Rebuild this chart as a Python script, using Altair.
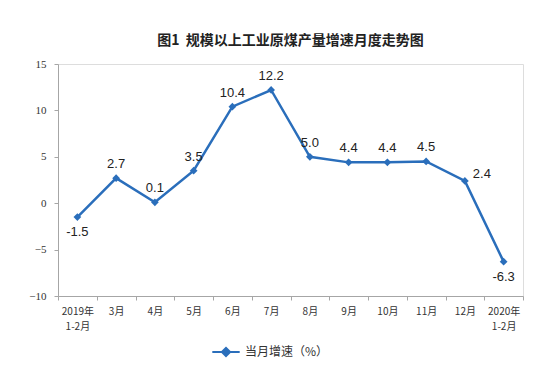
import altair as alt
import pandas as pd

months = ["2019年|1-2月", "3月", "4月", "5月", "6月", "7月", "8月", "9月",
          "10月", "11月", "12月", "2020年|1-2月"]
growth = [-1.5, 2.7, 0.1, 3.5, 10.4, 12.2, 5.0, 4.4, 4.4, 4.5, 2.4, -6.3]
series_name = "当月增速（%）"
label_pos = ["below", "above", "above", "above", "above", "above", "above",
             "above", "above", "above", "right", "below"]

df = pd.DataFrame({"month": months, "value": growth, "series": series_name,
                   "pos": label_pos})
df["label"] = df["value"].map(lambda v: f"{v:.1f}")

COLOR = "#2A6EBB"
CJK = "Noto Sans CJK SC"

x = alt.X("month:N", sort=months,
          scale=alt.Scale(paddingInner=0, paddingOuter=0),
          axis=alt.Axis(title=None, labelAngle=0, tickBand="extent",
                        labelExpr="datum.value ? split(datum.value, '|') : ''",
                        labelFont=CJK, labelFontSize=10, labelColor="#333",
                        labelPadding=6, domainColor="#A6A6A6", tickColor="#A6A6A6",
                        tickSize=4, labelLineHeight=15))
y = alt.Y("value:Q",
          scale=alt.Scale(domain=[-10, 15], nice=False),
          axis=alt.Axis(title=None, values=[-10, -5, 0, 5, 10, 15], grid=False,
                        labelFont="Liberation Serif", labelFontSize=11,
                        labelColor="#333", domainColor="#A6A6A6",
                        tickColor="#A6A6A6", tickSize=4, labelPadding=8))

base = alt.Chart(df)

line = base.mark_line(strokeWidth=2.5, point=alt.OverlayMarkDef(
    shape="diamond", size=60, filled=True, color=COLOR)).encode(
    x=x, y=y,
    color=alt.Color("series:N", scale=alt.Scale(range=[COLOR]),
                    legend=alt.Legend(title=None, orient="none",
                                      legendX=153, legendY=273,
                                      symbolType="M-1,0L1,0M-0.3,0L0,-0.3L0.3,0L0,0.3Z",
                                      symbolSize=750, symbolStrokeWidth=2,
                                      symbolFillColor=COLOR, symbolStrokeColor=COLOR,
                                      labelFont=CJK, labelFontSize=12,
                                      labelColor="#333"))
)

txt_style = dict(font="Liberation Sans", fontSize=13, color="#222")

above = base.transform_filter("datum.pos == 'above'").mark_text(
    dy=-14, **txt_style).encode(x=x, y=y, text="label:N")
below = base.transform_filter("datum.pos == 'below'").mark_text(
    dy=15, **txt_style).encode(x=x, y=y, text="label:N")
right = base.transform_filter("datum.pos == 'right'").mark_text(
    dx=17, dy=-7, **txt_style).encode(x=x, y=y, text="label:N")

chart = alt.layer(line, above, below, right).properties(
    width=465, height=232,
    title=alt.TitleParams("图1\u00a0\u00a0规模以上工业原煤产量增速月度走势图", font=CJK,
                          fontSize=14, fontWeight="bold", color="#222",
                          anchor="middle", offset=10),
    padding={"left": 20, "top": 26, "right": 15, "bottom": 5},
).configure_view(stroke=None).configure(background="white")

chart.save("out.html", embed_options={"renderer": "svg", "actions": False})
